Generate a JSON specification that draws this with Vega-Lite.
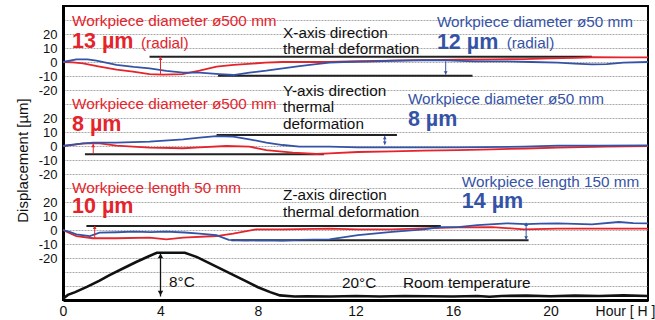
{
  "$schema": "https://vega.github.io/schema/vega-lite/v6.json",
  "width": 585,
  "height": 294,
  "autosize": {"type": "none"},
  "padding": {"left": 63, "top": 6, "right": 7, "bottom": 20},
  "background": "white",
  "config": {
    "font": "Liberation Sans",
    "view": {"stroke": "#000", "strokeWidth": 2}
  },
  "datasets": {
    "disp": [
      {"sec":1,"case":"A","h":0,"v":0},{"sec":1,"case":"A","h":0.4,"v":-0.3},{"sec":1,"case":"A","h":0.82,"v":-1},{"sec":1,"case":"A","h":1.5,"v":-3.3},{"sec":1,"case":"A","h":2.2,"v":-5.5},{"sec":1,"case":"A","h":2.87,"v":-6.9},{"sec":1,"case":"A","h":3.55,"v":-8.6},{"sec":1,"case":"A","h":4.1,"v":-9.0},{"sec":1,"case":"A","h":4.9,"v":-8.6},{"sec":1,"case":"A","h":5.6,"v":-6.2},{"sec":1,"case":"A","h":6.3,"v":-3.3},{"sec":1,"case":"A","h":7.0,"v":-2.1},{"sec":1,"case":"A","h":8.3,"v":-0.5},{"sec":1,"case":"A","h":9.0,"v":0},{"sec":1,"case":"A","h":10.9,"v":0},{"sec":1,"case":"A","h":12.1,"v":0.6},{"sec":1,"case":"A","h":13.5,"v":1.0},{"sec":1,"case":"A","h":14.8,"v":1.4},{"sec":1,"case":"A","h":16.2,"v":1.6},{"sec":1,"case":"A","h":17.6,"v":1.9},{"sec":1,"case":"A","h":18.9,"v":2.1},{"sec":1,"case":"A","h":20.0,"v":2.6},{"sec":1,"case":"A","h":21.0,"v":3.0},{"sec":1,"case":"A","h":21.7,"v":3.4},{"sec":1,"case":"A","h":23.0,"v":3.3},{"sec":1,"case":"A","h":24,"v":3.3},
      {"sec":1,"case":"B","h":0,"v":0},{"sec":1,"case":"B","h":0.55,"v":1.9},{"sec":1,"case":"B","h":1.0,"v":1.9},{"sec":1,"case":"B","h":1.37,"v":1.0},{"sec":1,"case":"B","h":2.19,"v":-2.1},{"sec":1,"case":"B","h":2.9,"v":-3.5},{"sec":1,"case":"B","h":3.55,"v":-4.5},{"sec":1,"case":"B","h":4.24,"v":-6.4},{"sec":1,"case":"B","h":4.93,"v":-7.6},{"sec":1,"case":"B","h":5.6,"v":-7.6},{"sec":1,"case":"B","h":6.42,"v":-8.6},{"sec":1,"case":"B","h":6.98,"v":-9.3},{"sec":1,"case":"B","h":7.65,"v":-7.6},{"sec":1,"case":"B","h":8.34,"v":-6.2},{"sec":1,"case":"B","h":9.02,"v":-4.5},{"sec":1,"case":"B","h":9.7,"v":-2.9},{"sec":1,"case":"B","h":10.3,"v":-1.7},{"sec":1,"case":"B","h":10.93,"v":-0.5},{"sec":1,"case":"B","h":11.5,"v":0},{"sec":1,"case":"B","h":12.5,"v":0.3},{"sec":1,"case":"B","h":13.5,"v":0.9},{"sec":1,"case":"B","h":14.8,"v":1.4},{"sec":1,"case":"B","h":15.7,"v":1.2},{"sec":1,"case":"B","h":16.9,"v":0.5},{"sec":1,"case":"B","h":18.2,"v":0.5},{"sec":1,"case":"B","h":19.2,"v":0},{"sec":1,"case":"B","h":20.3,"v":-0.5},{"sec":1,"case":"B","h":21.0,"v":-1.2},{"sec":1,"case":"B","h":21.7,"v":-1.7},{"sec":1,"case":"B","h":22.3,"v":-1.5},{"sec":1,"case":"B","h":23.0,"v":-0.5},{"sec":1,"case":"B","h":24,"v":0},
      {"sec":2,"case":"A","h":0,"v":0},{"sec":2,"case":"A","h":0.5,"v":1.0},{"sec":2,"case":"A","h":0.82,"v":1.9},{"sec":2,"case":"A","h":1.5,"v":1.9},{"sec":2,"case":"A","h":2.19,"v":0.2},{"sec":2,"case":"A","h":3.55,"v":-1.2},{"sec":2,"case":"A","h":4.93,"v":-1.6},{"sec":2,"case":"A","h":5.6,"v":-1.0},{"sec":2,"case":"A","h":6.7,"v":0},{"sec":2,"case":"A","h":7.65,"v":-0.5},{"sec":2,"case":"A","h":8.34,"v":-2.9},{"sec":2,"case":"A","h":9.43,"v":-4.8},{"sec":2,"case":"A","h":10.4,"v":-5.7},{"sec":2,"case":"A","h":10.93,"v":-5.2},{"sec":2,"case":"A","h":12.1,"v":-4.3},{"sec":2,"case":"A","h":13.5,"v":-3.8},{"sec":2,"case":"A","h":14.8,"v":-3.3},{"sec":2,"case":"A","h":16.2,"v":-2.9},{"sec":2,"case":"A","h":17.6,"v":-2.4},{"sec":2,"case":"A","h":19.0,"v":-1.8},{"sec":2,"case":"A","h":20.3,"v":-1.2},{"sec":2,"case":"A","h":22.3,"v":-0.5},{"sec":2,"case":"A","h":24,"v":0},
      {"sec":2,"case":"B","h":0,"v":0},{"sec":2,"case":"B","h":0.55,"v":1.4},{"sec":2,"case":"B","h":1.23,"v":2.4},{"sec":2,"case":"B","h":2.19,"v":2.4},{"sec":2,"case":"B","h":3.55,"v":3.1},{"sec":2,"case":"B","h":4.93,"v":4.8},{"sec":2,"case":"B","h":5.6,"v":6.0},{"sec":2,"case":"B","h":6.29,"v":7.1},{"sec":2,"case":"B","h":6.98,"v":6.7},{"sec":2,"case":"B","h":7.65,"v":4.8},{"sec":2,"case":"B","h":8.34,"v":2.4},{"sec":2,"case":"B","h":9.02,"v":0.7},{"sec":2,"case":"B","h":9.7,"v":-0.5},{"sec":2,"case":"B","h":10.93,"v":-0.5},{"sec":2,"case":"B","h":12.1,"v":-1.0},{"sec":2,"case":"B","h":13.5,"v":-1.0},{"sec":2,"case":"B","h":16.2,"v":-1.0},{"sec":2,"case":"B","h":18.9,"v":-0.5},{"sec":2,"case":"B","h":20.3,"v":0.2},{"sec":2,"case":"B","h":22,"v":0.3},{"sec":2,"case":"B","h":24,"v":0.5},
      {"sec":3,"case":"A","h":0,"v":0},{"sec":3,"case":"A","h":0.3,"v":-2.5},{"sec":3,"case":"A","h":0.55,"v":-4.3},{"sec":3,"case":"A","h":1.23,"v":-5.9},{"sec":3,"case":"A","h":2.19,"v":-5.9},{"sec":3,"case":"A","h":3.55,"v":-5.5},{"sec":3,"case":"A","h":4.24,"v":-6.7},{"sec":3,"case":"A","h":4.93,"v":-5.5},{"sec":3,"case":"A","h":6.29,"v":-4.3},{"sec":3,"case":"A","h":6.98,"v":-2.6},{"sec":3,"case":"A","h":7.93,"v":0.5},{"sec":3,"case":"A","h":9.02,"v":0.5},{"sec":3,"case":"A","h":10.93,"v":1.0},{"sec":3,"case":"A","h":12.1,"v":0.5},{"sec":3,"case":"A","h":13.5,"v":0.5},{"sec":3,"case":"A","h":14.8,"v":1.2},{"sec":3,"case":"A","h":16.2,"v":1.9},{"sec":3,"case":"A","h":17.6,"v":2.1},{"sec":3,"case":"A","h":18.9,"v":0.5},{"sec":3,"case":"A","h":20.3,"v":1.0},{"sec":3,"case":"A","h":22,"v":1.0},{"sec":3,"case":"A","h":24,"v":1.0},
      {"sec":3,"case":"B","h":0,"v":0},{"sec":3,"case":"B","h":0.3,"v":-1.5},{"sec":3,"case":"B","h":0.55,"v":-3.1},{"sec":3,"case":"B","h":1.1,"v":-4.3},{"sec":3,"case":"B","h":1.5,"v":-1.9},{"sec":3,"case":"B","h":2.2,"v":-1.6},{"sec":3,"case":"B","h":2.9,"v":-1.2},{"sec":3,"case":"B","h":3.6,"v":-1.5},{"sec":3,"case":"B","h":4.24,"v":-1.2},{"sec":3,"case":"B","h":5.0,"v":-1.8},{"sec":3,"case":"B","h":5.6,"v":-2.6},{"sec":3,"case":"B","h":6.29,"v":-3.6},{"sec":3,"case":"B","h":6.8,"v":-7.0},{"sec":3,"case":"B","h":7.5,"v":-7.4},{"sec":3,"case":"B","h":8.34,"v":-7.2},{"sec":3,"case":"B","h":9.0,"v":-7.5},{"sec":3,"case":"B","h":9.7,"v":-7.0},{"sec":3,"case":"B","h":10.93,"v":-6.7},{"sec":3,"case":"B","h":12.1,"v":-3.6},{"sec":3,"case":"B","h":13.5,"v":-1.4},{"sec":3,"case":"B","h":14.8,"v":0.5},{"sec":3,"case":"B","h":15.5,"v":2.1},{"sec":3,"case":"B","h":16.2,"v":2.1},{"sec":3,"case":"B","h":17.0,"v":3.5},{"sec":3,"case":"B","h":18.2,"v":4.8},{"sec":3,"case":"B","h":19.0,"v":4.2},{"sec":3,"case":"B","h":19.6,"v":4.6},{"sec":3,"case":"B","h":20.3,"v":4.8},{"sec":3,"case":"B","h":21.0,"v":4.4},{"sec":3,"case":"B","h":21.7,"v":4.0},{"sec":3,"case":"B","h":22.8,"v":5.7},{"sec":3,"case":"B","h":23.4,"v":4.9},{"sec":3,"case":"B","h":24,"v":4.8}
    ],
    "refs": [
      {"sec":1,"h":3.55,"h2":21.7,"v":3.8},{"sec":1,"h":6.36,"h2":16.8,"v":-9.8},
      {"sec":2,"h":6.3,"h2":13.7,"v":7.9},{"sec":2,"h":0.9,"h2":10.7,"v":-5.9},
      {"sec":3,"h":0.96,"h2":15.5,"v":2.9},{"sec":3,"h":6.9,"h2":19.1,"v":-7.4}
    ],
    "arrows": [
      {"sec":1,"case":"A","h":4.0,"v":3.8,"v2":-8.5},{"sec":1,"case":"B","h":15.7,"v":0.5,"v2":-9.0},
      {"sec":2,"case":"A","h":1.24,"v":1.4,"v2":-5.2},{"sec":2,"case":"B","h":13.2,"v":7.0,"v2":1.0},
      {"sec":3,"case":"A","h":1.3,"v":2.9,"v2":-5.8},{"sec":3,"case":"B","h":19.0,"v":5.2,"v2":-6.8}
    ],
    "heads": [
      {"sec":1,"case":"A","h":4.0,"v":2.6,"dir":"up"},{"sec":1,"case":"B","h":15.7,"v":-7.8,"dir":"down"},
      {"sec":2,"case":"A","h":1.24,"v":0.3,"dir":"up"},{"sec":2,"case":"B","h":13.2,"v":5.9,"dir":"up"},{"sec":2,"case":"B","h":13.2,"v":2.1,"dir":"down"},
      {"sec":3,"case":"A","h":1.3,"v":1.8,"dir":"up"},{"sec":3,"case":"B","h":19.0,"v":4.1,"dir":"up"},{"sec":3,"case":"B","h":19.0,"v":-5.7,"dir":"down"}
    ],
    "temp": [
      {"h":0,"t":19.6},{"h":0.2,"t":20.3},{"h":0.5,"t":20.8},{"h":1.0,"t":21.8},{"h":1.5,"t":22.9},{"h":1.91,"t":23.9},{"h":2.5,"t":25.2},{"h":3.0,"t":26.3},{"h":3.5,"t":27.3},{"h":3.85,"t":28.0},{"h":5.0,"t":28.0},{"h":5.5,"t":27.2},{"h":6.0,"t":26.1},{"h":6.5,"t":25.0},{"h":7.0,"t":23.9},{"h":7.5,"t":22.8},{"h":8.0,"t":21.7},{"h":8.5,"t":20.8},{"h":8.9,"t":20.2},{"h":9.5,"t":20.0},{"h":10,"t":20.05},{"h":11,"t":20.0},{"h":12,"t":20.1},{"h":13,"t":20.0},{"h":14,"t":20.1},{"h":15,"t":20.05},{"h":16,"t":20.0},{"h":17,"t":20.1},{"h":17.5,"t":19.95},{"h":18,"t":20.1},{"h":19,"t":20.15},{"h":20,"t":20.05},{"h":21,"t":20.15},{"h":22,"t":20.1},{"h":23,"t":20.2},{"h":24,"t":20.1}
    ],
    "tarrow": [{"h":4.0,"t":28.0,"t2":20.0}],
    "theads": [{"h":4.0,"t":27.4,"dir":"up"},{"h":4.0,"t":20.6,"dir":"down"}],
    "notes": [
      {"text":"Workpiece diameter ø500 mm","case":"A","kind":"label","h":0.37,"v":29.3},
      {"text":"13 µm","case":"A","kind":"amount","h":0.37,"v":14.3},
      {"text":"(radial)","case":"A","kind":"label","h":3.2,"v":13.6},
      {"text":"X-axis direction","case":"K","kind":"label","h":9.03,"v":20.7},
      {"text":"thermal deformation","case":"K","kind":"label","h":9.03,"v":9.3},
      {"text":"Workpiece diameter ø50 mm","case":"B","kind":"label","h":15.34,"v":28.6},
      {"text":"12 µm","case":"B","kind":"amount","h":15.34,"v":13.6},
      {"text":"(radial)","case":"B","kind":"label","h":18.2,"v":13.6},
      {"text":"Workpiece diameter ø500 mm","case":"A","kind":"label","h":0.37,"v":-30.2},
      {"text":"8 µm","case":"A","kind":"amount","h":0.37,"v":-45},
      {"text":"Y-axis direction","case":"K","kind":"label","h":9.03,"v":-20.5},
      {"text":"thermal","case":"K","kind":"label","h":9.03,"v":-32.4},
      {"text":"deformation","case":"K","kind":"label","h":9.03,"v":-44.3},
      {"text":"Workpiece diameter ø50 mm","case":"B","kind":"label","h":14.15,"v":-26.4},
      {"text":"8 µm","case":"B","kind":"amount","h":14.15,"v":-41.4},
      {"text":"Workpiece length 50 mm","case":"A","kind":"label","h":0.37,"v":-90.2},
      {"text":"10 µm","case":"A","kind":"amount","h":0.37,"v":-103.8},
      {"text":"Z-axis direction","case":"K","kind":"label","h":9.03,"v":-95},
      {"text":"thermal deformation","case":"K","kind":"label","h":9.03,"v":-107.4},
      {"text":"Workpiece length 150 mm","case":"B","kind":"label","h":16.36,"v":-85.5},
      {"text":"14 µm","case":"B","kind":"amount","h":16.36,"v":-99.8},
      {"text":"8°C","case":"K","kind":"label","h":4.35,"v":-156.9},
      {"text":"20°C","case":"K","kind":"label","h":11.45,"v":-157.6},
      {"text":"Room temperature","case":"K","kind":"label","h":13.95,"v":-157.6}
    ]
  },
  "encoding": {
    "x": {
      "field": "h", "type": "quantitative",
      "scale": {"domain": [0, 24], "nice": false, "zero": false},
      "axis": {
        "values": [0, 4, 8, 12, 16, 20], "title": "Hour [ H ]", "grid": false, "ticks": false,
        "labelPadding": 4, "labelFontSize": 14, "labelColor": "#111", "labelFlush": false,
        "domainColor": "#000", "domainWidth": 3,
        "titleX": 592, "titleY": 11, "titleAlign": "right", "titleBaseline": "middle",
        "titleFontWeight": "normal", "titleFontSize": 14, "titleColor": "#111"
      }
    }
  },
  "resolve": {"scale": {"y": "independent"}},
  "layer": [
    {
      "encoding": {
        "y": {
          "field": "v", "type": "quantitative",
          "scale": {"domain": [-170, 40], "nice": false, "zero": false},
          "axis": {
            "title": "Displacement [µm]",
            "values": [30,20,10,0,-10,-20,-30,-40,-50,-60,-70,-80,-90,-100,-110,-120,-130,-140,-150,-160],
            "labelExpr": "(datum.value <= 20 && datum.value >= -20) ? datum.value : (datum.value <= -40 && datum.value >= -80) ? datum.value + 60 : (datum.value <= -100 && datum.value >= -140) ? datum.value + 120 : ''",
            "labelOverlap": false, "labelFlush": false,
            "grid": true, "gridColor": "#a9a9a9", "gridDash": [2, 1], "gridWidth": 1,
            "ticks": false, "labelPadding": 6, "labelFontSize": 13, "labelColor": "#111",
            "domainColor": "#000", "domainWidth": 3,
            "titleFontSize": 15, "titleFontWeight": "normal", "titleColor": "#111",
            "titleX": -41, "titleY": 154, "titleBaseline": "middle", "titleAlign": "center"
          }
        }
      },
      "layer": [
        {
          "data": {"name": "refs"}, "transform": [{"filter": "datum.sec == 1"}],
          "mark": {"type": "rule", "color": "#222", "strokeWidth": 2},
          "encoding": {"x2": {"field": "h2"}}
        },
        {
          "data": {"name": "disp"}, "transform": [{"filter": "datum.sec == 1"}],
          "mark": {"type": "line", "strokeWidth": 1.8},
          "encoding": {"color": {"field": "case", "type": "nominal", "scale": {"domain": ["A", "B", "K"], "range": ["#e5232b", "#3553a6", "#111111"]}, "legend": null}}
        },
        {
          "data": {"name": "arrows"}, "transform": [{"filter": "datum.sec == 1"}],
          "mark": {"type": "rule", "strokeWidth": 1},
          "encoding": {"y2": {"field": "v2"}, "color": {"field": "case", "type": "nominal", "legend": null}}
        },
        {
          "data": {"name": "heads"}, "transform": [{"filter": "datum.sec == 1"}],
          "mark": {"type": "point", "filled": true, "size": 14, "opacity": 1},
          "encoding": {
            "color": {"field": "case", "type": "nominal", "legend": null},
            "shape": {"field": "dir", "type": "nominal", "scale": {"domain": ["up", "down"], "range": ["triangle-up", "triangle-down"]}, "legend": null}
          }
        },
        {
          "data": {"name": "notes"}, "transform": [{"filter": "datum.kind == 'label'"}],
          "mark": {"type": "text", "align": "left", "baseline": "middle", "fontSize": 15.3},
          "encoding": {"text": {"field": "text"}, "color": {"field": "case", "type": "nominal", "legend": null}}
        },
        {
          "data": {"name": "notes"}, "transform": [{"filter": "datum.kind == 'amount'"}],
          "mark": {"type": "text", "align": "left", "baseline": "middle", "fontSize": 21.5, "fontWeight": "bold"},
          "encoding": {"text": {"field": "text"}, "color": {"field": "case", "type": "nominal", "legend": null}}
        }
      ]
    },
    {
      "encoding": {
        "y": {"field": "v", "type": "quantitative", "scale": {"domain": [-110, 100], "nice": false, "zero": false}, "axis": null}
      },
      "layer": [
        {
          "data": {"name": "refs"}, "transform": [{"filter": "datum.sec == 2"}],
          "mark": {"type": "rule", "color": "#222", "strokeWidth": 2},
          "encoding": {"x2": {"field": "h2"}}
        },
        {
          "data": {"name": "disp"}, "transform": [{"filter": "datum.sec == 2"}],
          "mark": {"type": "line", "strokeWidth": 1.8},
          "encoding": {"color": {"field": "case", "type": "nominal", "legend": null}}
        },
        {
          "data": {"name": "arrows"}, "transform": [{"filter": "datum.sec == 2"}],
          "mark": {"type": "rule", "strokeWidth": 1},
          "encoding": {"y2": {"field": "v2"}, "color": {"field": "case", "type": "nominal", "legend": null}}
        },
        {
          "data": {"name": "heads"}, "transform": [{"filter": "datum.sec == 2"}],
          "mark": {"type": "point", "filled": true, "size": 14, "opacity": 1},
          "encoding": {
            "color": {"field": "case", "type": "nominal", "legend": null},
            "shape": {"field": "dir", "type": "nominal", "legend": null}
          }
        }
      ]
    },
    {
      "encoding": {
        "y": {"field": "v", "type": "quantitative", "scale": {"domain": [-50, 160], "nice": false, "zero": false}, "axis": null}
      },
      "layer": [
        {
          "data": {"name": "refs"}, "transform": [{"filter": "datum.sec == 3"}],
          "mark": {"type": "rule", "color": "#222", "strokeWidth": 2},
          "encoding": {"x2": {"field": "h2"}}
        },
        {
          "data": {"name": "disp"}, "transform": [{"filter": "datum.sec == 3"}],
          "mark": {"type": "line", "strokeWidth": 1.8},
          "encoding": {"color": {"field": "case", "type": "nominal", "legend": null}}
        },
        {
          "data": {"name": "arrows"}, "transform": [{"filter": "datum.sec == 3"}],
          "mark": {"type": "rule", "strokeWidth": 1},
          "encoding": {"y2": {"field": "v2"}, "color": {"field": "case", "type": "nominal", "legend": null}}
        },
        {
          "data": {"name": "heads"}, "transform": [{"filter": "datum.sec == 3"}],
          "mark": {"type": "point", "filled": true, "size": 14, "opacity": 1},
          "encoding": {
            "color": {"field": "case", "type": "nominal", "legend": null},
            "shape": {"field": "dir", "type": "nominal", "legend": null}
          }
        }
      ]
    },
    {
      "encoding": {
        "y": {"field": "t", "type": "quantitative", "scale": {"domain": [19.36, 73.06], "nice": false, "zero": false}, "axis": null}
      },
      "layer": [
        {
          "data": {"name": "temp"},
          "mark": {"type": "line", "color": "#111", "strokeWidth": 2.6}
        },
        {
          "data": {"name": "tarrow"},
          "mark": {"type": "rule", "color": "#111", "strokeWidth": 1.3},
          "encoding": {"y2": {"field": "t2"}}
        },
        {
          "data": {"name": "theads"},
          "mark": {"type": "point", "filled": true, "size": 30, "opacity": 1, "color": "#111"},
          "encoding": {"shape": {"field": "dir", "type": "nominal", "legend": null}}
        }
      ]
    }
  ]
}
